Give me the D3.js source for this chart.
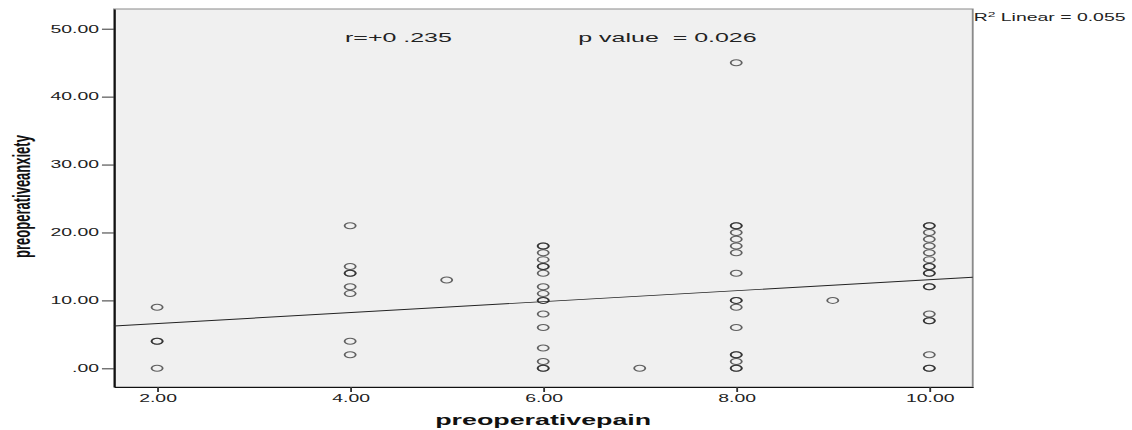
<!DOCTYPE html>
<html>
<head>
<meta charset="utf-8">
<script src="https://cdn.jsdelivr.net/npm/d3@7"></script>
<style>
  body { margin: 0; background: #fff; }
  svg { display: block; font-family: "Liberation Sans", Arial, sans-serif; }
</style>
</head>
<body>
<div id="chart"></div>
<script>
// one entry per subject: preoperative pain score (x) and anxiety score (y)
const pain = [
  2, 2, 2, 2,
  4, 4, 4, 4, 4, 4, 4, 4,
  5,
  6, 6, 6, 6, 6, 6, 6, 6, 6, 6, 6, 6, 6, 6, 6, 6, 6,
  7,
  8, 8, 8, 8, 8, 8, 8, 8, 8, 8, 8, 8, 8, 8, 8, 8, 8,
  9,
  10, 10, 10, 10, 10, 10, 10, 10, 10, 10, 10, 10, 10, 10, 10, 10, 10, 10, 10
];
const anxiety = [
  9, 4, 4, 0,
  21, 15, 14, 14, 12, 11, 4, 2,
  13,
  18, 18, 17, 16, 15, 15, 14, 12, 11, 10, 10, 8, 6, 3, 1, 0, 0,
  0,
  45, 21, 21, 20, 19, 18, 17, 14, 10, 10, 9, 6, 2, 2, 1, 0, 0,
  10,
  21, 21, 20, 19, 18, 17, 16, 15, 15, 14, 14, 12, 12, 8, 7, 7, 2, 0, 0
];

const xTicks = [2, 4, 6, 8, 10];
const yTicks = [0, 10, 20, 30, 40, 50];

// fit line as shown (R2 linear)
const fitIntercept = 4.98;
const fitSlope = 0.806;

const rLabel = 'r=+0 .235';
const pLabel = 'p value  = 0.026';
const r2Value = '0.055';

// the picture is stretched sideways, so draw in narrower units and stretch
const stretch = 1.85;
const width = 1132, height = 430;
const vbWidth = width / stretch;

const margin = { top: 9, right: vbWidth - 525.8, bottom: height - 387, left: 61.6 };
const innerW = vbWidth - margin.left - margin.right;
const innerH = height - margin.top - margin.bottom;

const svg = d3.select('#chart')
  .append('svg')
  .attr('width', width)
  .attr('height', height)
  .attr('viewBox', `0 0 ${vbWidth} ${height}`)
  .attr('preserveAspectRatio', 'none');

const g = svg.append('g')
  .attr('transform', `translate(${margin.left},${margin.top})`);

const x = d3.scaleLinear().domain([1.553, 10.45]).range([0, innerW]);
const y = d3.scaleLinear().domain([-2.75, 52.9]).range([innerH, 0]);

// plot area
g.append('rect')
  .attr('width', innerW)
  .attr('height', innerH)
  .attr('fill', '#f0f0f0')
  .attr('stroke', '#8a8a8a')
  .attr('stroke-width', 1);

const fmt = d => d === 0 ? '.00' : d.toFixed(2);

// axes
const yAxis = g.append('g')
  .attr('class', 'axis axis--y')
  .call(d3.axisLeft(y).tickValues(yTicks).tickFormat(fmt)
    .tickSize(6.5).tickSizeOuter(0).tickPadding(1.6));

const xAxis = g.append('g')
  .attr('class', 'axis axis--x')
  .attr('transform', `translate(0,${innerH})`)
  .call(d3.axisBottom(x).tickValues(xTicks).tickFormat(fmt)
    .tickSize(5).tickSizeOuter(0).tickPadding(3));

svg.selectAll('.axis text')
  .attr('font-family', '"Liberation Sans", Arial, sans-serif')
  .attr('font-size', 10.5)
  .attr('fill', '#222');
svg.selectAll('.axis line').attr('stroke', '#333');
svg.selectAll('.axis path.domain').attr('stroke', '#111');

// fit line
g.append('line')
  .attr('x1', x(x.domain()[0]))
  .attr('y1', y(fitIntercept + fitSlope * x.domain()[0]))
  .attr('x2', x(x.domain()[1]))
  .attr('y2', y(fitIntercept + fitSlope * x.domain()[1]))
  .attr('stroke', '#222')
  .attr('stroke-width', 0.9);

// points
const points = pain.map((p, i) => [p, anxiety[i]]);
g.append('g')
  .selectAll('circle')
  .data(points)
  .join('circle')
  .attr('cx', d => x(d[0]))
  .attr('cy', d => y(d[1]))
  .attr('r', 3)
  .attr('fill', 'none')
  .attr('stroke', '#222')
  .attr('stroke-opacity', 0.7)
  .attr('stroke-width', 1);

// annotations
g.append('text')
  .attr('x', 186.5 - margin.left)
  .attr('y', 41.7 - margin.top)
  .attr('font-size', 13.5)
  .attr('fill', '#222')
  .style('white-space', 'pre')
  .text(rLabel);

g.append('text')
  .attr('x', 312.6 - margin.left)
  .attr('y', 41.7 - margin.top)
  .attr('font-size', 13.5)
  .attr('fill', '#222')
  .style('white-space', 'pre')
  .text(pLabel);

const r2 = svg.append('text')
  .attr('x', 526.3)
  .attr('y', 21)
  .attr('font-size', 10.5)
  .attr('fill', '#222');
r2.append('tspan').text('R');
r2.append('tspan').attr('font-size', 7.5).attr('dy', -4).text('2');
r2.append('tspan').attr('dy', 4).text(' Linear = ' + r2Value);

// axis titles
svg.append('text')
  .attr('x', margin.left + x(6))
  .attr('y', 425)
  .attr('text-anchor', 'middle')
  .attr('font-size', 14.5)
  .attr('font-weight', 'bold')
  .attr('fill', '#111')
  .text('preoperativepain');

svg.append('text')
  .attr('transform', `translate(16.2,196.5) rotate(-90)`)
  .attr('text-anchor', 'middle')
  .attr('font-size', 13)
  .attr('font-weight', 'bold')
  .attr('fill', '#111')
  .text('preoperativeanxiety');
</script>
</body>
</html>
